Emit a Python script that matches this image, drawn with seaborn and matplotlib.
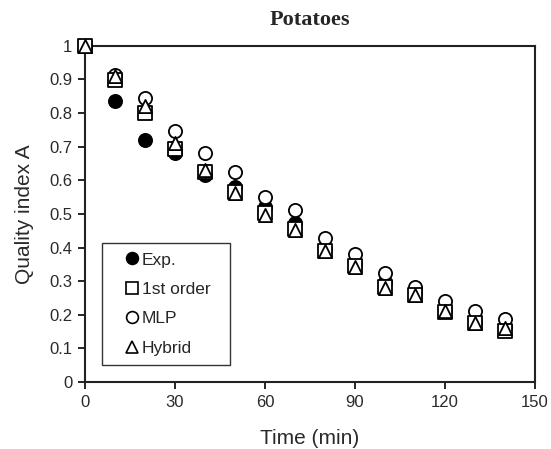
import matplotlib
matplotlib.use("Agg")
import matplotlib.pyplot as plt
from matplotlib.lines import Line2D
from matplotlib.patches import Rectangle
import seaborn as sns
import pandas as pd

time_min = [0, 10, 20, 30, 40, 50, 60, 70, 80, 90, 100, 110, 120, 130, 140]
exp_vals = [1.0, 0.837, 0.72, 0.68, 0.616, 0.58, 0.52, 0.473, 0.395, 0.35, 0.298, 0.265, 0.215, 0.18, 0.165]
first_order = [1.0, 0.899, 0.80, 0.693, 0.626, 0.565, 0.503, 0.455, 0.39, 0.345, 0.282, 0.258, 0.209, 0.175, 0.153]
mlp_vals = [1.0, 0.914, 0.846, 0.747, 0.68, 0.624, 0.551, 0.512, 0.428, 0.38, 0.323, 0.282, 0.242, 0.212, 0.187]
hybrid_vals = [1.0, 0.91, 0.82, 0.71, 0.63, 0.562, 0.497, 0.452, 0.39, 0.343, 0.28, 0.26, 0.21, 0.175, 0.16]

series_names = ["Exp.", "1st order", "MLP", "Hybrid"]
x_ticks = [0, 30, 60, 90, 120, 150]
y_ticks = [0, 0.1, 0.2, 0.3, 0.4, 0.5, 0.6, 0.7, 0.8, 0.9, 1]
y_tick_labels = ["0", "0.1", "0.2", "0.3", "0.4", "0.5", "0.6", "0.7", "0.8", "0.9", "1"]

sns.set_theme(style="ticks")
plt.rcParams["font.family"] = ["Liberation Sans", "DejaVu Sans"]

df = pd.DataFrame({
    "Time": time_min * 4,
    "A": exp_vals + first_order + mlp_vals + hybrid_vals,
    "Series": [n for n in series_names for _ in time_min],
})

fig = plt.figure(figsize=(5.51, 4.49), dpi=100)
ax = fig.add_axes([0.154, 0.149, 0.817, 0.749])

# marker style per series: (marker, face colour)
styles = {
    "Exp.": ("o", "black"),
    "MLP": ("o", "white"),
    "1st order": ("s", "white"),
    "Hybrid": ("^", "white"),
}
draw_order = ["Exp.", "MLP", "1st order", "Hybrid"]
for i, name in enumerate(draw_order):
    m, fc = styles[name]
    sub = df[df["Series"] == name]
    sns.scatterplot(data=sub, x="Time", y="A", ax=ax, marker=m, s=90,
                    facecolor=fc, edgecolor="black", linewidth=1.3,
                    clip_on=False, zorder=3 + i, legend=False)

ax.set_xlim(0, 150)
ax.set_ylim(0, 1)
ax.set_xticks(x_ticks)
ax.set_yticks(y_ticks)
ax.set_yticklabels(y_tick_labels)
ax.tick_params(axis="both", direction="out", length=5, width=1.2, pad=4,
               labelsize=12, color="black", labelcolor="#2a2a2a")
for sp in ax.spines.values():
    sp.set_linewidth(1.5)
    sp.set_color("#222222")

ax.set_xlabel("Time (min)", fontsize=15, labelpad=14, color="#2a2a2a")
ax.set_ylabel("Quality index A", fontsize=15, labelpad=11, color="#2a2a2a")
ax.set_title("Potatoes", fontsize=16, fontweight="bold",
             family=["Liberation Serif", "DejaVu Serif"], pad=15)

# legend frame drawn as its own rectangle, entries placed inside it
box_x, box_y, box_w, box_h = 0.038, 0.05, 0.284, 0.363
ax.add_patch(Rectangle((box_x, box_y), box_w, box_h, transform=ax.transAxes,
                       facecolor="white", edgecolor="#333333", linewidth=1.0,
                       zorder=10))
handles = []
for name in series_names:
    m, fc = styles[name]
    handles.append(Line2D([], [], linestyle="none", marker=m, markersize=8.5,
                          markerfacecolor=fc, markeredgecolor="black",
                          markeredgewidth=1.2))
leg = ax.legend(handles, series_names, loc="upper left",
                bbox_to_anchor=(0.071, box_y + box_h - 0.004), fontsize=12.5,
                frameon=False, handlelength=0.8, handletextpad=0.2,
                labelspacing=0.82, borderpad=0.45, borderaxespad=0)
leg.set_zorder(11)

fig.savefig("out.png", dpi=100)
